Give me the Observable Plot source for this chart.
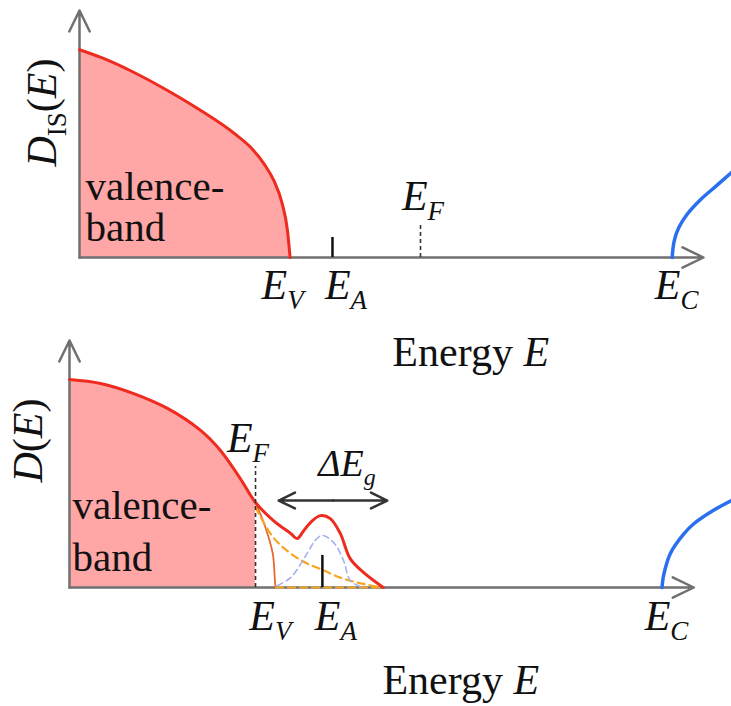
<!DOCTYPE html>
<html><head><meta charset="utf-8">
<script src="https://cdn.jsdelivr.net/npm/d3@7"></script>
<script src="https://cdn.jsdelivr.net/npm/@observablehq/plot@0.6"></script>
<style>
html,body{margin:0;padding:0;background:#fff;}
#wrap{position:relative;width:731px;height:706px;overflow:hidden;}
#top,#bot{position:absolute;left:0;}
#top{top:0;} #bot{top:330px;}
</style></head><body><div id="wrap"><div id="top"></div><div id="bot"></div></div>
<script>
// ---------- data (energy E and density D in arbitrary units) ----------
const xAxisLabel = "Energy E";
const topYLabel = "D_IS(E)";
const botYLabel = "D(E)";
const bandLabel = "valence-\nband";
const gapLabel = "ΔE_g";

// top panel: ideal semiconductor
const topValenceE = [0, 3.2, 8.3, 13.5, 18.6, 23.8, 26.2, 28.3, 29.8, 31.1, 31.9, 32.3];
const topValenceD = [84.1, 81.1, 75.0, 67.6, 59.5, 50.1, 44.7, 37.9, 31.2, 21.7, 10.9, 0];
const topConductionE = [90.9, 91.2, 91.9, 93.2, 95.2, 97.8, 100];
const topConductionD = [0, 6.5, 12.0, 17.5, 23.3, 29.3, 34.4];
const topLevelNames = ["E_V", "E_A", "E_F", "E_C"];
const topLevelE = [32.3, 38.8, 52.3, 90.9];
const topAcceptorTick = 8.1;
const topFermiTick = 13.0;
const topAxisEnd = 95.7;

// bottom panel: disordered semiconductor
const botEnvelopeE = [0, 4.7, 9.7, 14.8, 19.8, 22.8, 25.8, 28.1, 30.8, 33.4, 34.4, 35.3, 36.4, 37.9, 39.4, 40.9, 42.4, 44.4, 47.4];
const botEnvelopeD = [84.2, 82.6, 78.5, 72.5, 63.6, 55.5, 44.1, 34.4, 27.1, 21.9, 19.8, 22.7, 26.3, 29.1, 27.9, 21.9, 11.7, 6.1, 0];
const botValenceE = [28.1, 29.6, 30.7, 31.1, 31.2];
const botValenceD = [34.4, 24.3, 13.8, 0.8, 0];
const botTailE = [28.1, 30.8, 33.4, 35.9, 38.4, 40.9, 43.5, 47.0];
const botTailD = [32.4, 20.2, 13.8, 9.7, 6.9, 4.0, 2.0, 0];
const botAcceptorE = [31.4, 33.4, 35.9, 37.1, 38.2, 39.9, 41.4, 42.4, 43.9];
const botAcceptorD = [0.8, 4.0, 13.8, 19.0, 21.1, 18.2, 10.9, 2.8, 0.4];
const botBaselineDashE = [31.2, 47.4];
const botConductionE = [89.5, 89.8, 90.8, 92.8, 94.3, 96.8, 100];
const botConductionD = [0, 5.6, 14.0, 21.7, 25.8, 30.5, 35.2];
const botLevelNames = ["E_F", "E_V", "E_A", "E_C"];
const botLevelE = [28.1, 31.1, 38.2, 89.5];
const botFermiTick = 49.0;
const botAcceptorTick = 13.0;
const gapFrom = 31.6, gapTo = 48.0, gapD = 35.2;
const botAxisEnd = 94.3;
const yAxisTop = 100;

// ---------- helpers ----------
const pts = (E, D) => E.map((e, i) => ({E: e, D: D[i]}));
const FONT = "'Liberation Serif', 'Times New Roman', Tinos, 'DejaVu Serif', 'Noto Serif', serif";
const INK = "#111";
const AXIS = "#707070";
const RED = "#ee2b1e", PINK = "#ffa6a6", BLUE = "#2a6ff0";

function axisArrows(xEnd) {
  const o = {x1: "x1", y1: "y1", x2: "x2", y2: "y2", stroke: AXIS, strokeWidth: 2.5, headLength: 14, headAngle: 52};
  return [
    Plot.arrow([{x1: 0, y1: 0, x2: xEnd, y2: 0}], o),
    Plot.arrow([{x1: 0, y1: 0, x2: 0, y2: yAxisTop}], o)
  ];
}
function label(text, x, y, opts) {
  return Plot.text([{x, y, text}], {x: "x", y: "y", text: "text", fontFamily: FONT, fill: INK, ...opts});
}

const RICH = {
  "E_V": [["E", "i"], ["V", "is"]],
  "E_A": [["E", "i"], ["A", "is"]],
  "E_F": [["E", "i"], ["F", "is"]],
  "E_C": [["E", "i"], ["C", "is"]],
  "ΔE_g": [["ΔE", "i"], ["g", "is"]],
  "D_IS(E)": [["D", "i"], ["IS", "s"], ["(", ""], ["E", "i"], [")", ""]],
  "D(E)": [["D", "i"], ["(", ""], ["E", "i"], [")", ""]],
  "Energy E": [["Energy ", ""], ["E", "i"]]
};
// split label strings into italic / subscript runs (call after the svg is in the page)
function richify(svg) {
  d3.select(svg).selectAll("text").each(function () {
    this.style.fontFamily = FONT;
    const spec = RICH[this.textContent];
    if (!spec) return;
    let fs = parseFloat(getComputedStyle(this).fontSize);
    if (!isFinite(fs)) fs = 42;
    this.textContent = "";
    let shifted = 0;
    for (const [s, f] of spec) {
      const ts = d3.select(this).append("tspan").text(s);
      ts.attr("font-style", f.includes("i") ? "italic" : "normal").style("font-family", FONT);
      const sub = f.includes("s");
      const want = sub ? Math.round(0.24 * fs) : 0;
      if (want !== shifted) { ts.attr("dy", want - shifted); shifted = want; }
      if (sub) ts.attr("font-size", Math.round(0.64 * fs));
    }
  });
  return svg;
}

// ---------- top panel ----------
const topOffsets = {"E_V": [-7.5, 41], "E_A": [13.5, 41], "E_F": [2.5, -15], "E_C": [4.5, 41]};
const topLevelMarks = topLevelNames.map((n, i) => {
  const [dx, dy] = topOffsets[n];
  const y = n === "E_F" ? topFermiTick : 0;
  return label(n, topLevelE[i], y, {fontSize: 42, textAnchor: "middle", lineAnchor: "bottom", dx, dy});
});
const iA = topLevelNames.indexOf("E_A"), iF = topLevelNames.indexOf("E_F");

const topSvg = Plot.plot({
  width: 731, height: 380,
  marginLeft: 79, marginRight: 0, marginTop: 10, marginBottom: 123,
  x: {domain: [0, 100], axis: null},
  y: {domain: [0, 100], axis: null},
  style: {background: "transparent", overflow: "visible", fontFamily: FONT},
  marks: [
    Plot.areaY(pts(topValenceE, topValenceD), {x: "E", y: "D", fill: PINK, curve: "monotone-x"}),
    ...axisArrows(topAxisEnd),
    Plot.line(pts(topValenceE, topValenceD), {x: "E", y: "D", stroke: RED, strokeWidth: 3, curve: "monotone-x"}),
    Plot.line(pts(topConductionE, topConductionD), {x: "E", y: "D", stroke: BLUE, strokeWidth: 3.5, curve: "catmull-rom"}),
    Plot.ruleX([topLevelE[iA]], {y1: 0, y2: topAcceptorTick, stroke: "#111", strokeWidth: 2.5}),
    Plot.ruleX([topLevelE[iF]], {y1: 0, y2: topFermiTick, stroke: "#333", strokeWidth: 1.6, strokeDasharray: "4,3"}),
    ...topLevelMarks,
    label(bandLabel, 0, 0, {fontSize: 41, textAnchor: "start", lineAnchor: "bottom", lineHeight: 1.0, dx: 6, dy: -17}),
    label(xAxisLabel, 60.0, 0, {fontSize: 42, textAnchor: "middle", lineAnchor: "bottom", dy: 108}),
    label(topYLabel, -5.7, 58.7, {fontSize: 42, textAnchor: "middle", lineAnchor: "middle", rotate: -90})
  ]
});
document.getElementById("top").appendChild(topSvg);
richify(topSvg);

// ---------- bottom panel ----------
const botOffsets = {"E_F": [-7.5, -14], "E_V": [-5, 42], "E_A": [13.5, 42], "E_C": [4.5, 42]};
const botLevelMarks = botLevelNames.map((n, i) => {
  const [dx, dy] = botOffsets[n];
  const y = n === "E_F" ? botFermiTick : 0;
  return label(n, botLevelE[i], y, {fontSize: 42, textAnchor: "middle", lineAnchor: "bottom", dx, dy});
});
const bF = botLevelNames.indexOf("E_F"), bA = botLevelNames.indexOf("E_A");
const fermiE = botLevelE[bF];
const envelope = pts(botEnvelopeE, botEnvelopeD);
const gapMid = (gapFrom + gapTo) / 2;

const botSvg = Plot.plot({
  width: 731, height: 376,
  marginLeft: 69, marginRight: 0, marginTop: 10, marginBottom: 119,
  x: {domain: [0, 100], axis: null},
  y: {domain: [0, 100], axis: null},
  style: {background: "transparent", overflow: "visible", fontFamily: FONT},
  marks: [
    Plot.areaY(envelope.filter(d => d.E <= fermiE), {x: "E", y: "D", fill: PINK, curve: "catmull-rom"}),
    ...axisArrows(botAxisEnd),
    Plot.line(pts(botValenceE, botValenceD), {x: "E", y: "D", stroke: "#e8692e", strokeWidth: 1.8, curve: "catmull-rom"}),
    Plot.line(pts(botTailE, botTailD), {x: "E", y: "D", stroke: "#f5a623", strokeWidth: 2.2, strokeDasharray: "7,5", curve: "catmull-rom"}),
    Plot.line(pts(botBaselineDashE, [0, 0]), {x: "E", y: "D", stroke: "#f5a623", strokeWidth: 2.2, strokeDasharray: "7,5"}),
    Plot.line(pts(botAcceptorE, botAcceptorD), {x: "E", y: "D", stroke: "#a7b0ee", strokeWidth: 1.6, strokeDasharray: "6,4", curve: "catmull-rom"}),
    Plot.line(envelope, {x: "E", y: "D", stroke: RED, strokeWidth: 3, curve: "catmull-rom"}),
    Plot.line(pts(botConductionE, botConductionD), {x: "E", y: "D", stroke: BLUE, strokeWidth: 3.5, curve: "catmull-rom"}),
    Plot.ruleX([fermiE], {y1: 0, y2: botFermiTick, stroke: "#333", strokeWidth: 1.6, strokeDasharray: "4,3"}),
    Plot.ruleX([botLevelE[bA]], {y1: 0, y2: botAcceptorTick, stroke: "#111", strokeWidth: 2.5}),
    Plot.arrow([{x1: gapMid, x2: gapFrom}, {x1: gapMid, x2: gapTo}], {x1: "x1", x2: "x2", y1: gapD, y2: gapD, stroke: "#333", strokeWidth: 2.5, headLength: 14, headAngle: 52}),
    label(gapLabel, gapMid + 2.1, gapD, {fontSize: 38, textAnchor: "middle", lineAnchor: "bottom", dy: -25}),
    ...botLevelMarks,
    label(bandLabel, 0, 0, {fontSize: 41, textAnchor: "start", lineAnchor: "bottom", lineHeight: 1.25, dx: 3, dy: -17}),
    label(xAxisLabel, 59.1, 0, {fontSize: 42, textAnchor: "middle", lineAnchor: "bottom", dy: 106}),
    label(botYLabel, -6.2, 59.5, {fontSize: 42, textAnchor: "middle", lineAnchor: "middle", rotate: -90})
  ]
});
document.getElementById("bot").appendChild(botSvg);
richify(botSvg);
</script></body></html>
